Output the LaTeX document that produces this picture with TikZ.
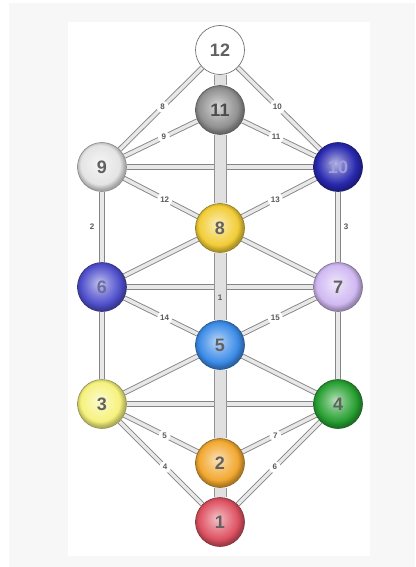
\documentclass[tikz,border=0pt]{standalone}
\usepackage{fontspec}
\setmainfont{Liberation Sans}
\pgfdeclareradialshading[ballc]{sphere}{\pgfpoint{-3bp}{4bp}}{%
  color(0bp)=(ballc!35!white);
  color(11bp)=(ballc!72!white);
  color(20bp)=(ballc);
  color(25bp)=(ballc!72!black);
  color(50bp)=(ballc!72!black)}
\pgfdeclarelayer{bg}
\pgfdeclarelayer{edges}
\pgfdeclarelayer{trunklayer}
\pgfsetlayers{bg,edges,trunklayer,main}
\definecolor{c11}{RGB}{145,145,145}
\definecolor{c9}{RGB}{228,228,228}
\definecolor{c10}{RGB}{40,40,175}
\definecolor{c8}{RGB}{242,205,55}
\definecolor{c6}{RGB}{80,80,205}
\definecolor{c7}{RGB}{208,185,242}
\definecolor{c5}{RGB}{60,140,232}
\definecolor{c3}{RGB}{246,242,125}
\definecolor{c4}{RGB}{40,160,50}
\definecolor{c2}{RGB}{242,168,48}
\definecolor{c1}{RGB}{222,82,98}
\definecolor{bggray}{RGB}{247,247,247}
\tikzset{
  ball/.style={circle, minimum size=49pt, inner sep=0pt, shading=sphere,
    draw=#1!60!black, line width=0.6pt, /utils/exec={\colorlet{ballc}{#1}},
    font=\bfseries\fontsize{18}{18}\selectfont, text=black!62},
  pipe/.style={draw=black!48, double=black!9, double distance=3.4pt, line width=0.9pt},
  trunk/.style={draw=black!42, double=black!12, double distance=11pt, line width=1pt},
  lab/.style={circle, fill=white, inner sep=1.6pt, font=\bfseries\fontsize{8}{8}\selectfont, text=black!65},
  sidelab/.style={inner sep=0pt, font=\bfseries\fontsize{8}{8}\selectfont, text=black!65}
}
\begin{document}
\begin{tikzpicture}[x=1pt,y=-1pt]
\useasboundingbox (0,0) rectangle (415,567);
\begin{pgfonlayer}{bg}
\fill[bggray] (9,3) rectangle (415,567);
\fill[white] (68,22) rectangle (370,556);
\end{pgfonlayer}
% nodes
\node[circle, minimum size=49pt, inner sep=0pt, fill=white, draw=black!55, line width=0.7pt,
  font=\bfseries\fontsize{18}{18}\selectfont, text=black!62] (n12) at (220,50) {12};
\node[ball=c11, text=black!70] (n11) at (220,110) {11};
\node[ball=c9] (n9) at (102,167) {9};
\node[ball=c10, text=c10!45!white] (n10) at (338,167) {10};
\node[ball=c8] (n8) at (220,228) {8};
\node[ball=c6, text=c6!40!gray] (n6) at (102,287) {6};
\node[ball=c7] (n7) at (338,287) {7};
\node[ball=c5] (n5) at (220,345) {5};
\node[ball=c3] (n3) at (102,404) {3};
\node[ball=c4] (n4) at (338,404) {4};
\node[ball=c2] (n2) at (220,463) {2};
\node[ball=c1] (n1) at (220,522) {1};
% connectors
\begin{pgfonlayer}{edges}
\draw[pipe] (n9) -- (n10);
\draw[pipe] (n6) -- (n7);
\draw[pipe] (n3) -- (n4);
\draw[pipe] (n9) -- (n6) node[midway, sidelab, xshift=-10pt] {2};
\draw[pipe] (n6) -- (n3);
\draw[pipe] (n10) -- (n7) node[midway, sidelab, xshift=8pt] {3};
\draw[pipe] (n7) -- (n4);
\draw[pipe] (n8) -- (n6);
\draw[pipe] (n8) -- (n7);
\draw[pipe] (n5) -- (n3);
\draw[pipe] (n5) -- (n4);
\draw[pipe] (n9) -- (n12) node[pos=0.52, lab] {8};
\draw[pipe] (n9) -- (n11) node[pos=0.54, lab] {9};
\draw[pipe] (n10) -- (n12) node[pos=0.52, lab] {10};
\draw[pipe] (n10) -- (n11) node[pos=0.54, lab] {11};
\draw[pipe] (n9) -- (n8) node[pos=0.55, lab] {12};
\draw[pipe] (n10) -- (n8) node[pos=0.55, lab] {13};
\draw[pipe] (n6) -- (n5) node[pos=0.55, lab] {14};
\draw[pipe] (n7) -- (n5) node[pos=0.55, lab] {15};
\draw[pipe] (n3) -- (n1) node[pos=0.55, lab] {4};
\draw[pipe] (n3) -- (n2) node[pos=0.55, lab] {5};
\draw[pipe] (n4) -- (n1) node[pos=0.55, lab] {6};
\draw[pipe] (n4) -- (n2) node[pos=0.55, lab] {7};
\end{pgfonlayer}
\begin{pgfonlayer}{trunklayer}
\draw[trunk] (n12) -- (n11);
\draw[trunk] (n11) -- (n8);
\draw[trunk] (n8) -- (n5) node[pos=0.66, sidelab] {1};
\draw[trunk] (n5) -- (n2);
\draw[trunk] (n2) -- (n1);
\end{pgfonlayer}
\end{tikzpicture}
\end{document}
